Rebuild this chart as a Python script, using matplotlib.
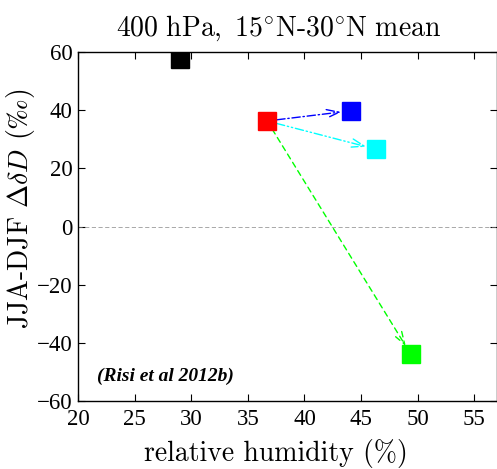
import matplotlib
matplotlib.use("Agg")
import matplotlib.pyplot as plt

plt.rcParams['mathtext.fontset'] = 'cm'
plt.rcParams['axes.unicode_minus'] = True

# data
labels = ["obs", "ctrl", "exp1", "exp2", "exp3"]
rh = [29.0, 36.7, 44.1, 46.3, 49.4]
dD = [57.5, 36.3, 39.8, 26.6, -44.0]
colors = ["black", "red", "blue", "cyan", "lime"]
arrow_from = 1
arrow_to = [2, 3, 4]
arrow_styles = [(0, (6, 2, 1, 2)), (0, (6, 2, 1, 2, 1, 2)), (0, (4, 3))]

xticks = [20, 25, 30, 35, 40, 45, 50, 55]
yticks = [-60, -40, -20, 0, 20, 40, 60]

fig = plt.figure(figsize=(4.97, 4.69), dpi=100)
ax = fig.add_axes([0.157, 0.145, 0.843, 0.744])

ax.axhline(0, color='gray', lw=0.6, ls=(0, (5, 3)), alpha=0.8)

for x, y, c in zip(rh, dD, colors):
    ax.plot(x, y, 's', ms=13.5, color=c, mec=c, zorder=3)

for t, ls in zip(arrow_to, arrow_styles):
    c = colors[t]
    ax.annotate("", xy=(rh[t], dD[t]), xytext=(rh[arrow_from], dD[arrow_from]),
                arrowprops=dict(arrowstyle='->,head_length=0.9,head_width=0.3', color=c,
                                lw=1.0, ls=ls, shrinkA=7, shrinkB=7), zorder=2)

ax.set_xlim(20, 57)
ax.set_ylim(-60, 60)
ax.set_xticks(xticks)
ax.set_yticks(yticks)
ax.tick_params(direction='in', top=True, right=True, length=5, width=0.8,
               labelsize=16.5, pad=4)
ax.tick_params(axis='x', pad=6)
for lab in ax.get_xticklabels() + ax.get_yticklabels():
    lab.set_fontfamily('Liberation Serif')
for s in ax.spines.values():
    s.set_linewidth(1.0)

ax.text(21.7, -51.5, "(Risi et al 2012b)", fontfamily='Liberation Serif',
        fontstyle='italic', fontweight='bold', fontsize=14, va='center', ha='left')

ax.set_title(r"$\mathrm{400\ hPa,\ 15^{\circ}N}$-$\mathrm{30^{\circ}N\ mean}$", fontfamily='cmr10',
             fontsize=20, x=0.479, pad=12)
ax.set_xlabel(r"relative humidity (%)", fontfamily='cmr10', fontsize=20, x=0.473, labelpad=6)
ax.set_ylabel(r"JJA-DJF $\Delta\delta D$ ($\mathrm{‰}$)", fontfamily='cmr10',
              fontsize=20, labelpad=0, y=0.55)

fig.savefig("out.png", dpi=100)
